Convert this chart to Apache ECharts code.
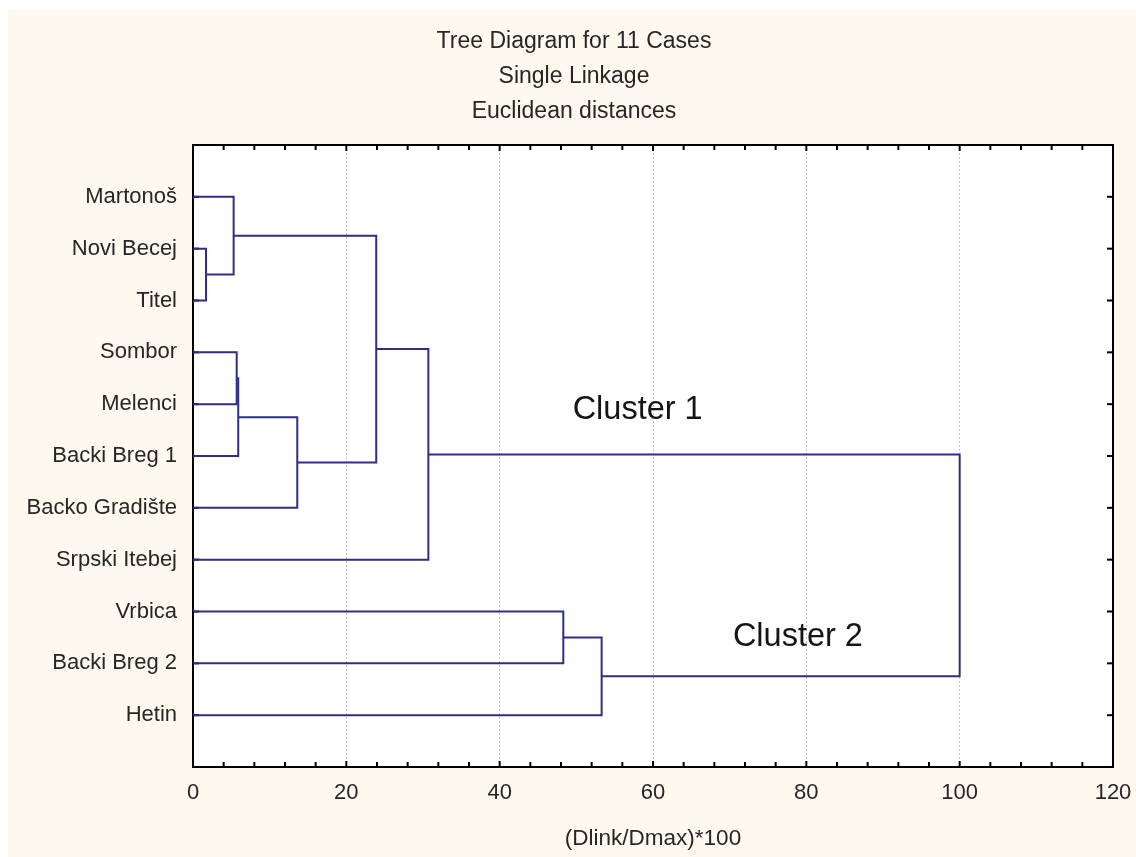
<!DOCTYPE html>
<html>
<head>
<meta charset="utf-8">
<title>Tree Diagram for 11 Cases</title>
<script src="https://cdn.jsdelivr.net/npm/echarts@6/dist/echarts.min.js"></script>
<style>
  html, body { margin: 0; padding: 0; background: #ffffff; }
  #chart { width: 1136px; height: 857px; }
</style>
</head>
<body>
<div id="chart"></div>
<script>
// Cases, top to bottom
const leaves = ['Martonoš', 'Novi Becej', 'Titel', 'Sombor', 'Melenci', 'Backi Breg 1',
                'Backo Gradište', 'Srpski Itebej', 'Vrbica', 'Backi Breg 2', 'Hetin'];

// Joins in order: node ids 0..10 are cases, each join creates node 11, 12, ...
const joinLeft   = [1, 0, 3, 13, 14, 12, 16, 8, 18, 17];
const joinRight  = [2, 11, 4, 5, 6, 15, 7, 9, 10, 19];
const joinHeight = [1.7, 5.3, 5.7, 5.9, 13.6, 23.9, 30.7, 48.3, 53.3, 100];

// Linkage distance axis
const xTicks = [0, 20, 40, 60, 80, 100, 120];
const minorPerMajor = 5;

// Cluster captions
const clusterNames = ['Cluster 1', 'Cluster 2'];
const clusterX = [58.0, 78.9];
const clusterY = [5.11, 9.49];

const textColor = '#262626';
const lineColor = '#2f2f82';
const font = '"Liberation Sans", Arial, sans-serif';

// Node positions: cases sit at 1..n, a join sits midway between its two children
const nodeY = leaves.map((_, i) => i + 1);
const nodeH = leaves.map(() => 0);
joinLeft.forEach((a, k) => {
  const b = joinRight[k];
  nodeY.push((nodeY[a] + nodeY[b]) / 2);
  nodeH.push(joinHeight[k]);
});

// One bracket per join: [h of left child, y of left child, join height, y of right child, h of right child]
const brackets = joinLeft.map((a, k) => {
  const b = joinRight[k];
  return [nodeH[a], nodeY[a], joinHeight[k], nodeY[b], nodeH[b]];
});

// Frame ticks, pointing into the plot: [axis, value, isMajor]
const frameTicks = [];
xTicks.forEach((v, i) => {
  frameTicks.push(['x', v, 1]);
  if (i < xTicks.length - 1) {
    const step = (xTicks[i + 1] - v) / minorPerMajor;
    for (let k = 1; k < minorPerMajor; k++) frameTicks.push(['x', v + k * step, 0]);
  }
});
nodeY.slice(0, leaves.length).forEach(v => frameTicks.push(['y', v, 1]));

const xMin = xTicks[0], xMax = xTicks[xTicks.length - 1];
const yMin = 0, yMax = leaves.length + 1;

const chart = echarts.init(document.getElementById('chart'));

const titleLine = (text, y) => ({
  type: 'text', x: 574, y: y,
  style: { text: text, font: '23px ' + font, fill: textColor, textAlign: 'center', textVerticalAlign: 'middle' }
});

chart.setOption({
  backgroundColor: '#ffffff',
  animation: false,
  textStyle: { fontFamily: font },
  graphic: [
    { type: 'rect', z: -10, shape: { x: 8, y: 10, width: 1128, height: 847 }, style: { fill: '#fdf9ee' } },
    titleLine('Tree Diagram for 11 Cases', 42),
    titleLine('Single Linkage', 77),
    titleLine('Euclidean distances', 112)
  ],
  grid: {
    left: 193, right: 23, top: 145, bottom: 90,
    show: true, backgroundColor: '#ffffff', borderColor: '#000', borderWidth: 2
  },
  xAxis: {
    type: 'value', position: 'bottom', min: xMin, max: xMax, interval: 20,
    axisLine: { show: true, lineStyle: { color: '#000', width: 2 } },
    axisTick: { show: false },
    axisLabel: { fontSize: 22, color: textColor, margin: 15 },
    splitLine: { show: true, showMinLine: false, showMaxLine: false, lineStyle: { color: '#c4c4c4', type: [2, 2], width: 1 } },
    name: '(Dlink/Dmax)*100', nameLocation: 'middle', nameGap: 60,
    nameTextStyle: { fontSize: 22.5, color: textColor }
  },
  yAxis: {
    type: 'value', position: 'left', inverse: true, min: yMin, max: yMax, interval: 1,
    axisLine: { show: true, lineStyle: { color: '#000', width: 2 } },
    axisTick: { show: false },
    axisLabel: {
      fontSize: 22, color: textColor, margin: 16,
      formatter: v => leaves[v - 1] || ''
    },
    splitLine: { show: false }
  },
  series: [
    {
      type: 'custom',
      name: 'frame ticks',
      coordinateSystem: 'cartesian2d',
      data: frameTicks.map(t => [t[0] === 'x' ? t[1] : xMin, t[0] === 'y' ? t[1] : yMin, t[0] === 'x' ? 0 : 1, t[2]]),
      silent: true,
      clip: false,
      renderItem: (params, api) => {
        const isY = api.value(2) === 1;
        const len = api.value(3) ? 6 : 5;
        const style = { stroke: '#000', lineWidth: 2 };
        if (!isY) {
          const v = api.value(0);
          const top = api.coord([v, yMin]), bot = api.coord([v, yMax]);
          return {
            type: 'group',
            children: [
              { type: 'line', shape: { x1: top[0], y1: top[1], x2: top[0], y2: top[1] + len }, style: style },
              { type: 'line', shape: { x1: bot[0], y1: bot[1], x2: bot[0], y2: bot[1] - len }, style: style }
            ]
          };
        }
        const v = api.value(1);
        const l = api.coord([xMin, v]), r = api.coord([xMax, v]);
        return {
          type: 'group',
          children: [
            { type: 'line', shape: { x1: l[0], y1: l[1], x2: l[0] + len, y2: l[1] }, style: style },
            { type: 'line', shape: { x1: r[0], y1: r[1], x2: r[0] - len, y2: r[1] }, style: style }
          ]
        };
      },
      z: 4
    },
    {
      type: 'custom',
      name: 'dendrogram',
      coordinateSystem: 'cartesian2d',
      data: brackets,
      encode: { x: [0, 2, 4], y: [1, 3] },
      renderItem: (params, api) => {
        const ha = api.value(0), ya = api.value(1), hm = api.value(2), yb = api.value(3), hb = api.value(4);
        const pts = [
          api.coord([ha, ya]), api.coord([hm, ya]),
          api.coord([hm, yb]), api.coord([hb, yb])
        ];
        return {
          type: 'polyline',
          shape: { points: pts },
          style: { stroke: lineColor, lineWidth: 2, fill: null }
        };
      },
      z: 5
    },
    {
      type: 'custom',
      name: 'clusters',
      coordinateSystem: 'cartesian2d',
      data: clusterNames.map((n, i) => [clusterX[i], clusterY[i], i]),
      renderItem: (params, api) => {
        const p = api.coord([api.value(0), api.value(1)]);
        return {
          type: 'text',
          x: p[0], y: p[1],
          style: {
            text: clusterNames[api.value(2)],
            font: '32.5px ' + font,
            fill: '#151515',
            textAlign: 'center', textVerticalAlign: 'middle'
          }
        };
      },
      z: 6
    }
  ]
});
</script>
</body>
</html>
